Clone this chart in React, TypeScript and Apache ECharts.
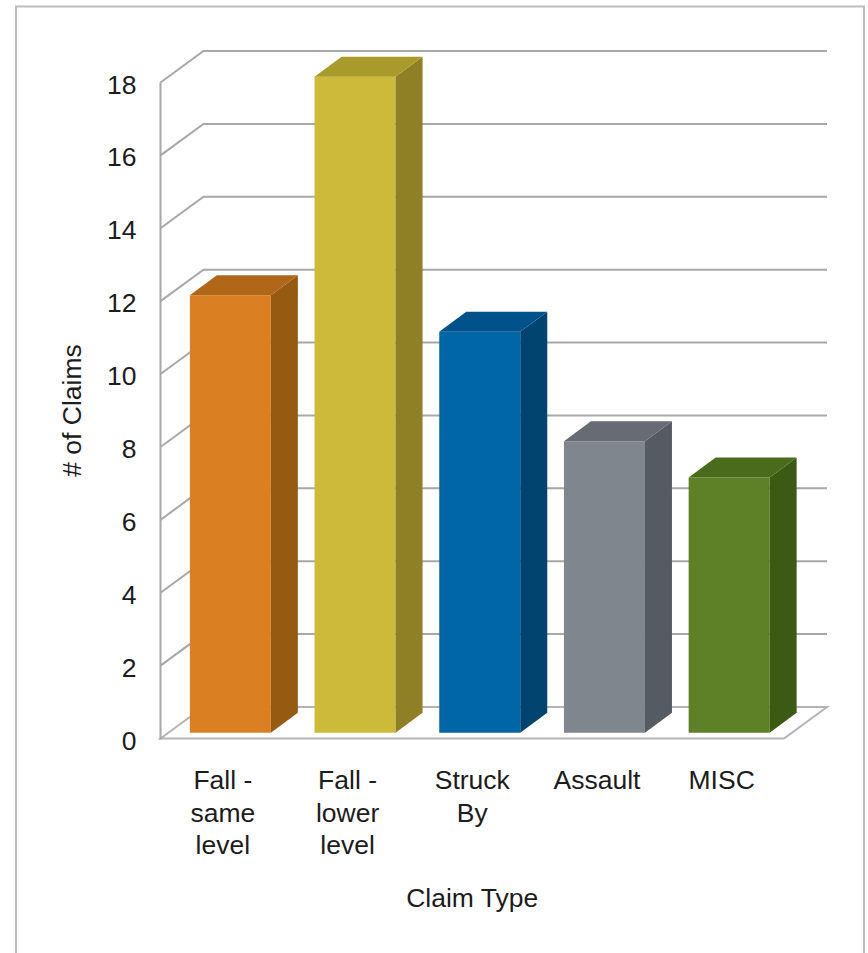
import React, { useEffect, useRef } from "react";
import * as echarts from "echarts";

const categories = ["Fall -\nsame\nlevel", "Fall -\nlower\nlevel", "Struck\nBy", "Assault", "MISC"];
const claims = [12, 18, 11, 8, 7];
const gridTicks = [2, 4, 6, 8, 10, 12, 14, 16, 18];
const frontColors = ["#DA8022", "#CDBA38", "#0066A6", "#7F868E", "#5E8128"];
const sideColors = ["#965A11", "#8F7F25", "#00446F", "#555B63", "#3D5A14"];
const topColors = ["#B06717", "#A89A2B", "#00528A", "#676C74", "#4B6B1C"];

const FONT = "'Liberation Sans', Arial, sans-serif";
const TEXT = "#1c1c1c";
const LINE = "#A8A8A8";
const WALL_DX = 43;
const WALL_DY = -31.5;
const BAR_SHIFT_X = 7.5;
const BAR_SHIFT_Y = -5.8;
const BAR_W = 81;
const SIDE_DX = 27;
const SIDE_DY = -20;

function renderWall(params: any, api: any) {
  const cs = params.coordSys;
  const y = api.coord([0, api.value(1)])[1];
  const x0 = cs.x;
  const x1 = cs.x + WALL_DX;
  const x2 = cs.x + cs.width + WALL_DX;
  return {
    type: "polyline",
    shape: { points: [[x0, y], [x1, y + WALL_DY], [x2, y + WALL_DY]] },
    style: { stroke: LINE, lineWidth: 2, fill: "none" },
  };
}

function renderFloor(params: any, api: any) {
  const cs = params.coordSys;
  const y = api.coord([0, 0])[1];
  return {
    type: "group",
    children: [
      {
        type: "polyline",
        shape: {
          points: [
            [cs.x + WALL_DX, y + WALL_DY],
            [cs.x + cs.width + WALL_DX, y + WALL_DY],
            [cs.x + cs.width, y],
            [cs.x, y],
            [cs.x + WALL_DX, y + WALL_DY],
          ],
        },
        style: { stroke: "#B4B4B4", lineWidth: 2, fill: "none" },
      },
      {
        type: "line",
        shape: { x1: cs.x, y1: cs.y, x2: cs.x, y2: y + 1 },
        style: { stroke: LINE, lineWidth: 2 },
      },
    ],
  };
}

function renderBar(params: any, api: any) {
  const i = params.dataIndex;
  const base = api.coord([api.value(0), 0]);
  const top = api.coord([api.value(0), api.value(1)]);
  const xl = base[0] + BAR_SHIFT_X - BAR_W / 2;
  const xr = xl + BAR_W;
  const yb = base[1] + BAR_SHIFT_Y;
  const yt = top[1] + BAR_SHIFT_Y;
  return {
    type: "group",
    children: [
      {
        type: "polygon",
        shape: { points: [[xl, yb], [xr, yb], [xr, yt], [xl, yt]] },
        style: { fill: frontColors[i] },
      },
      {
        type: "polygon",
        shape: { points: [[xr, yb], [xr + SIDE_DX, yb + SIDE_DY], [xr + SIDE_DX, yt + SIDE_DY], [xr, yt]] },
        style: { fill: sideColors[i] },
      },
      {
        type: "polygon",
        shape: { points: [[xl, yt], [xr, yt], [xr + SIDE_DX, yt + SIDE_DY], [xl + SIDE_DX, yt + SIDE_DY]] },
        style: { fill: topColors[i] },
      },
    ],
  };
}

export default function App() {
  const ref = useRef<HTMLDivElement>(null);
  useEffect(() => {
    const chart = echarts.init(ref.current!, undefined, { renderer: "svg" });
    chart.setOption({
      animation: false,
      backgroundColor: "#fff",
      textStyle: { fontFamily: FONT },
      grid: { left: 160.5, right: 84, top: 82.5, height: 656, containLabel: false },
      graphic: [
        {
          type: "polyline",
          silent: true,
          shape: { points: [[16, 953], [16, 6.5], [864, 6.5], [864, 953]] },
          style: { stroke: "#BDBDBD", lineWidth: 2, fill: "none" },
        },
      ],
      xAxis: {
        type: "category",
        data: categories,
        name: "Claim Type",
        nameLocation: "middle",
        nameGap: 146,
        nameTextStyle: { fontFamily: FONT, fontSize: 26.5, color: TEXT },
        axisLine: { show: false },
        axisTick: { show: false },
        axisLabel: { interval: 0, margin: 25.5, fontFamily: FONT, fontSize: 26.5, color: TEXT, lineHeight: 32.5 },
      },
      yAxis: {
        type: "value",
        min: 0,
        max: 18,
        interval: 2,
        name: "# of Claims",
        nameLocation: "middle",
        nameGap: 75,
        nameTextStyle: { fontFamily: FONT, fontSize: 26.5, color: TEXT },
        axisLine: { show: false },
        axisTick: { show: false },
        splitLine: { show: false },
        axisLabel: {
          margin: 24,
          formatter: "{n|{value}}",
          rich: { n: { fontFamily: FONT, fontSize: 26.5, color: TEXT, padding: [4, 0, 0, 0] } },
        },
      },
      series: [
        {
          type: "custom",
          name: "gridlines",
          silent: true,
          z: 1,
          clip: false,
          renderItem: renderWall,
          encode: { x: 0, y: 1 },
          data: gridTicks.map((t) => [0, t]),
        },
        {
          type: "custom",
          name: "floor",
          silent: true,
          z: 2,
          clip: false,
          renderItem: renderFloor,
          encode: { x: 0, y: 1 },
          data: [[0, 0]],
        },
        {
          type: "custom",
          name: "# of Claims",
          z: 3,
          clip: false,
          renderItem: renderBar,
          encode: { x: 0, y: 1 },
          data: claims.map((v, i) => [i, v]),
        },
      ],
    });
    return () => chart.dispose();
  }, []);
  return <div ref={ref} style={{ position: "fixed", left: 0, top: 0, width: 868, height: 953 }} />;
}
